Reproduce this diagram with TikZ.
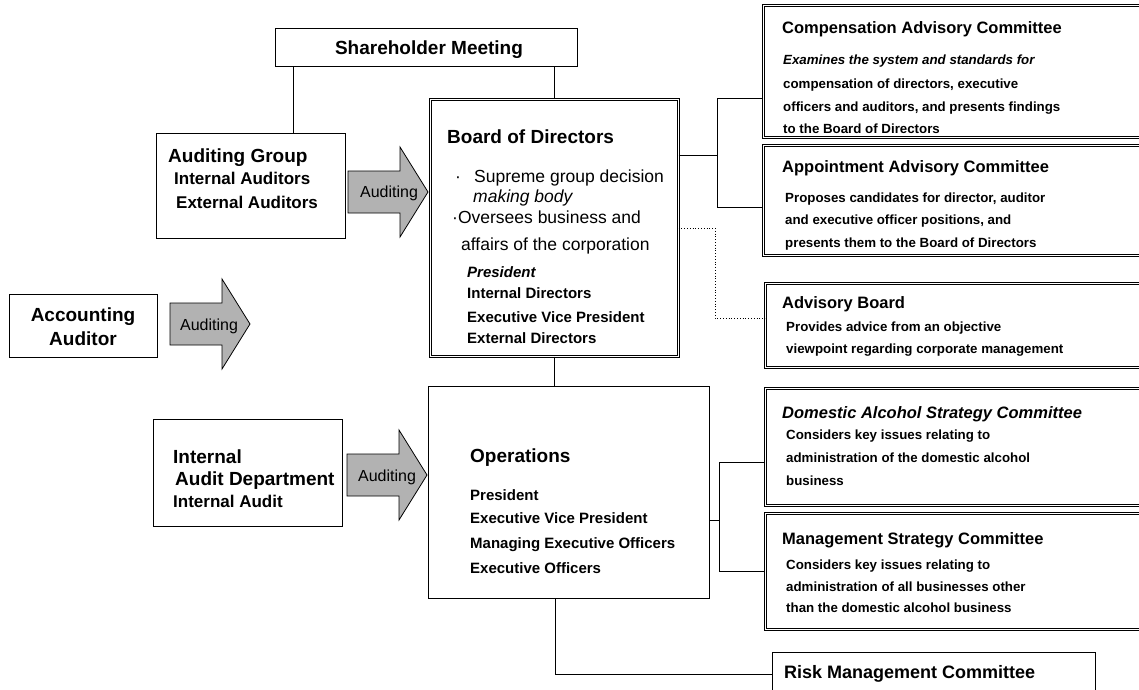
\documentclass[tikz,border=0pt]{standalone}
\usepackage{fontspec}
\setmainfont{Liberation Sans}
\usetikzlibrary{calc}

\tikzset{
  box/.style={draw, line width=0.9pt, inner sep=0pt, anchor=north west},
  dbox/.style={box, double, double distance=1.2pt, line width=0.6pt},
  hdr/.style={anchor=base west, inner sep=0pt, font=\fontsize{19}{22}\selectfont\bfseries},
  sub/.style={anchor=base west, inner sep=0pt, font=\fontsize{17}{20}\selectfont\bfseries},
  bul/.style={anchor=base west, inner sep=0pt, font=\fontsize{17.5}{20}\selectfont},
  lst/.style={anchor=base west, inner sep=0pt, font=\fontsize{15}{18}\selectfont\bfseries},
  cttl/.style={anchor=base west, inner sep=0pt, font=\fontsize{16.5}{19}\selectfont\bfseries},
  cdesc/.style={anchor=base west, inner sep=0pt, font=\fontsize{13.3}{16}\selectfont\bfseries},
  arrlbl/.style={anchor=base, inner sep=0pt, font=\fontsize{16}{18}\selectfont},
  auditfill/.style={draw, line width=0.8pt, fill=black!30},
  link/.style={line width=0.9pt}
}

% shaded "Auditing" arrow: #1 = tail x, #2 = axis y
\newcommand{\auditarrow}[2]{%
  \filldraw[auditfill] (#1,#2-21) -- (#1+52,#2-21) -- (#1+52,#2-45) -- (#1+80,#2)
    -- (#1+52,#2+45) -- (#1+52,#2+21) -- (#1,#2+21) -- cycle;}

\begin{document}
\begin{tikzpicture}[x=1pt,y=-1pt]
  \useasboundingbox (0,0) rectangle (1139,689);

  % boxes
  \node[box, minimum width=302pt, minimum height=38pt] (sh) at (275,28) {};
  \node[box, minimum width=189pt, minimum height=105pt] (ag) at (156,133) {};
  \node[box, minimum width=148pt, minimum height=63pt] (acc) at (9,294) {};
  \node[box, minimum width=189pt, minimum height=107pt] (iad) at (153,419) {};
  \node[dbox, minimum width=248pt, minimum height=257pt] (board) at (430,99) {};
  \node[box, minimum width=281pt, minimum height=212pt] (ops) at (428,386) {};
  \node[dbox, minimum width=390pt, minimum height=132pt] (comp) at (763,5) {};
  \node[dbox, minimum width=390pt, minimum height=110pt] (appt) at (763,145) {};
  \node[dbox, minimum width=388pt, minimum height=84pt] (adv) at (765,283) {};
  \node[dbox, minimum width=388pt, minimum height=117pt] (dom) at (765,388) {};
  \node[dbox, minimum width=388pt, minimum height=116pt] (mgmt) at (765,513) {};
  \node[box, minimum width=323pt, minimum height=44pt] (risk) at (772,652) {};

  % auditing arrows
  \auditarrow{348}{192}
  \auditarrow{170}{324}
  \auditarrow{347}{475}
  \node[arrlbl] (arrA) at (389,197) {Auditing};
  \node[arrlbl] (arrB) at (209,330) {Auditing};
  \node[arrlbl] (arrC) at (387,481) {Auditing};

  % texts
  \node[anchor=base, inner sep=0pt, font=\fontsize{19}{22}\selectfont\bfseries] (shT) at (429,54) {Shareholder Meeting};

  \node[hdr] (agT) at (168,162) {Auditing Group};
  \node[sub] (ag1) at (174,184) {Internal Auditors};
  \node[sub] (ag2) at (176,208) {External Auditors};

  \node[anchor=base, inner sep=0pt, font=\fontsize{19}{22}\selectfont\bfseries] (acc1) at (83,321) {Accounting};
  \node[anchor=base, inner sep=0pt, font=\fontsize{19}{22}\selectfont\bfseries] (acc2) at (83,345) {Auditor};

  \node[hdr] (iad1) at (173,463) {Internal};
  \node[hdr] (iad2) at (175,485) {Audit Department};
  \node[sub] (iad3) at (173,507) {Internal Audit};

  \node[hdr] (boardT) at (447,143) {Board of Directors};
  \node[bul] (b0) at (455,182) {·};
  \node[bul] (b1) at (474,182) {Supreme group decision};
  \node[bul, font=\fontsize{17.5}{20}\selectfont\itshape] (b2) at (473,202) {making body};
  \node[bul] (b3) at (452,223) {·Oversees business and};
  \node[bul] (b4) at (461,250) {affairs of the corporation};
  \node[lst, font=\fontsize{15}{18}\selectfont\bfseries\itshape] (bl1) at (467,277) {President};
  \node[lst] (bl2) at (467,298) {Internal Directors};
  \node[lst] (bl3) at (467,322) {Executive Vice President};
  \node[lst] (bl4) at (467,343) {External Directors};

  \node[hdr] (opsT) at (470,462) {Operations};
  \node[lst] (ol1) at (470,500) {President};
  \node[lst] (ol2) at (470,523) {Executive Vice President};
  \node[lst] (ol3) at (470,548) {Managing Executive Officers};
  \node[lst] (ol4) at (470,573) {Executive Officers};

  \node[cttl] (compT) at (782,33) {Compensation Advisory Committee};
  \node[cdesc, font=\fontsize{13.3}{16}\selectfont\bfseries\itshape] (comp1) at (783,64) {Examines the system and standards for};
  \node[cdesc] (comp2) at (783,88) {compensation of directors, executive};
  \node[cdesc] (comp3) at (783,111) {officers and auditors, and presents findings};
  \node[cdesc] (comp4) at (783,133) {to the Board of Directors};

  \node[cttl] (apptT) at (782,172) {Appointment Advisory Committee};
  \node[cdesc] (appt1) at (785,202) {Proposes candidates for director, auditor};
  \node[cdesc] (appt2) at (785,224) {and executive officer positions, and};
  \node[cdesc] (appt3) at (785,247) {presents them to the Board of Directors};

  \node[cttl] (advT) at (782,308) {Advisory Board};
  \node[cdesc] (adv1) at (786,331) {Provides advice from an objective};
  \node[cdesc] (adv2) at (786,353) {viewpoint regarding corporate management};

  \node[cttl, font=\fontsize{16.5}{19}\selectfont\bfseries\itshape] (domT) at (782,418) {Domestic Alcohol Strategy Committee};
  \node[cdesc] (dom1) at (786,439) {Considers key issues relating to};
  \node[cdesc] (dom2) at (786,462) {administration of the domestic alcohol};
  \node[cdesc] (dom3) at (786,485) {business};

  \node[cttl] (mgmtT) at (782,544) {Management Strategy Committee};
  \node[cdesc] (mgmt1) at (786,569) {Considers key issues relating to};
  \node[cdesc] (mgmt2) at (786,591) {administration of all businesses other};
  \node[cdesc] (mgmt3) at (786,612) {than the domestic alcohol business};

  \node[anchor=base west, inner sep=0pt, font=\fontsize{18}{21}\selectfont\bfseries] (riskT) at (784,678) {Risk Management Committee};

  % connectors
  \draw[link] (board.north) -- (board.north |- sh.south);
  \draw[link] ([xshift=18pt]sh.south west) -- ([xshift=18pt]sh.south west |- ag.north);
  \draw[link] (board.south) -- (board.south |- ops.north);

  \coordinate (bj) at (717,155);
  \coordinate (bjc) at (717,98);
  \coordinate (bja) at (717,207);
  \draw[link] (board.east |- bj) -- (bj);
  \draw[link] (comp.west |- bjc) -- (bjc) -- (bja) -- (appt.west |- bja);

  \coordinate (dj1) at (715,228);
  \coordinate (dj2) at (715,318);
  \draw[dotted, line width=0.8pt] (board.east |- dj1) -- (dj1) -- (dj2) -- (adv.west |- dj2);

  \coordinate (oj) at (719,520);
  \coordinate (ojd) at (719,462);
  \coordinate (ojm) at (719,571);
  \draw[link] (ops.east |- oj) -- (oj);
  \draw[link] (dom.west |- ojd) -- (ojd) -- (ojm) -- (mgmt.west |- ojm);

  \draw[link] ([xshift=-14pt]ops.south) |- (risk.west);
\end{tikzpicture}
\end{document}
